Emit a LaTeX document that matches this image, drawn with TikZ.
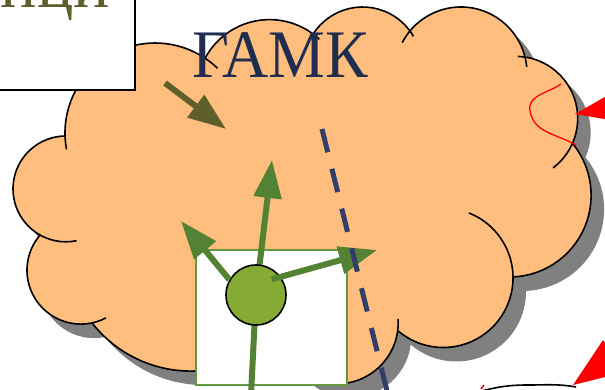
\documentclass[tikz,border=0pt]{standalone}
\usepackage{fontspec}
\setmainfont{Liberation Serif}
\usetikzlibrary{arrows.meta,calc}
\definecolor{cloudfill}{RGB}{255,190,125}
\definecolor{shadowgray}{RGB}{128,128,128}
\definecolor{olivec}{RGB}{95,95,45}
\definecolor{navyt}{RGB}{33,45,78}
\definecolor{navyd}{RGB}{50,62,105}
\definecolor{greenarrow}{RGB}{84,130,53}
\definecolor{greencirc}{RGB}{134,171,52}
\definecolor{greensq}{RGB}{98,153,64}
\def\cloudpath{([shift={(155,256)}]182:90) arc[start angle=182,end angle=56.2,radius=90]
 -- ([shift={(269.5,296.4)}]151.9:73) arc[start angle=151.9,end angle=53.4,radius=73]
 -- ([shift={(362.6,323.3)}]147.4:58.7) arc[start angle=147.4,end angle=36.2,radius=58.7]
 -- ([shift={(460.9,315.9)}]140.4:66.1) arc[start angle=140.4,end angle=14.1,radius=66.1]
 -- ([shift={(515.7,270.6)}]82.3:62) arc[start angle=82.3,end angle=-24,radius=62]
 -- ([shift={(509.4,193.7)}]38.9:81.7) arc[start angle=38.9,end angle=-87.5,radius=81.7]
 -- ([shift={(443.3,111.2)}]0.7:69.7) arc[start angle=0.7,end angle=-130,radius=69.7]
 -- ([shift={(337.2,66.2)}]-7.8:61) arc[start angle=-7.8,end angle=-166.5,radius=61]
 -- ([shift={(190.9,143.5)}]-46.2:125.6) arc[start angle=-46.2,end angle=-141.9,radius=125.6]
 -- ([shift={(80.9,118.8)}]281.9:53.9) arc[start angle=281.9,end angle=139.3,radius=53.9]
 -- ([shift={(65.9,200.1)}]240.7:52.9) arc[start angle=240.7,end angle=90,radius=52.9]
 -- cycle}
\begin{document}
\begin{tikzpicture}[x=1pt,y=1pt,
  cloudline/.style={draw=black, line width=1.6pt},
  bigtext/.style={inner sep=0pt, font=\fontsize{68}{80}\selectfont},
  olivearrow/.style={draw=olivec, line width=6pt, -{Triangle[length=38pt,width=27pt]}, olivec},
  garrow/.style={draw=greenarrow, line width=6pt, -{Triangle[length=38pt,width=27pt]}, greenarrow},
  gline/.style={draw=greenarrow, line width=6pt},
  gcircle/.style={circle, fill=greencirc, draw=black, line width=1.6pt, minimum size=60pt, inner sep=0pt},
  sqbox/.style={rectangle, fill=white, draw=greensq, line width=1.6pt, minimum width=151pt, minimum height=135pt, inner sep=0pt},
  navydash/.style={draw=navyd, line width=5pt, dash pattern=on 24pt off 17pt},
  redline/.style={draw=red, line width=1.3pt}]
\useasboundingbox (0,0) rectangle (605,389);
\clip (0,0) rectangle (605,389);
% cloud shadow and fill
\fill[shadowgray, shift={(13,-14)}] \cloudpath;
\fill[cloudfill] \cloudpath;
% cloud outline arcs
\draw[cloudline] ([shift={(155,256)}]190.5:90) arc[start angle=190.5,end angle=46,radius=90];
\draw[cloudline] ([shift={(269.5,296.4)}]151.9:73) arc[start angle=151.9,end angle=47,radius=73];
\draw[cloudline] ([shift={(362.6,323.3)}]147.4:58.7) arc[start angle=147.4,end angle=30,radius=58.7];
\draw[cloudline] ([shift={(460.9,315.9)}]152.5:66.1) arc[start angle=152.5,end angle=5.4,radius=66.1];
\draw[cloudline] ([shift={(515.7,270.6)}]88:62) arc[start angle=88,end angle=-53,radius=62];
\draw[cloudline] ([shift={(509.4,193.7)}]40:81.7) arc[start angle=40,end angle=-88,radius=81.7];
\draw[cloudline] ([shift={(443.3,111.2)}]68.4:69.7) arc[start angle=68.4,end angle=-130,radius=69.7];
\draw[cloudline] ([shift={(337.2,66.2)}]3.6:61) arc[start angle=3.6,end angle=-166.5,radius=61];
\draw[cloudline] ([shift={(190.9,143.5)}]-46.2:125.6) arc[start angle=-46.2,end angle=-141.9,radius=125.6];
\draw[cloudline] ([shift={(80.9,118.8)}]297.7:53.9) arc[start angle=297.7,end angle=139.3,radius=53.9];
\draw[cloudline] ([shift={(65.9,200.1)}]281.6:52.9) arc[start angle=281.6,end angle=90,radius=52.9];
% title text
\node[bigtext, text=navyt, anchor=base west, xscale=0.94] (gamk) at (192,311) {ГАМК};
% white label box (partly outside)
\draw[fill=white, draw=black, line width=1.6pt] (-5,299) rectangle (135,395);
\node[bigtext, text=olivec, anchor=base east] (nci) at (110,381) {нци};
% olive arrow
\coordinate (oTail) at (165,306);
\coordinate (oTip) at (226,260);
\draw[olivearrow] (oTail) -- (oTip);
% square with green circle
\node[sqbox] (sq) at (271.5,71.5) {};
\coordinate (gcc) at (256,94);
\coordinate (upTip) at (272,229);
\coordinate (downEnd) at (251,-6);
\coordinate (leftTip) at (181,168);
\coordinate (rightTip) at (377,139);
\draw[gline] (gcc) -- (downEnd);
\draw[garrow] (gcc) -- (upTip);
\node[gcircle] (gc) at (gcc) {};
\draw[garrow] (gc.150) -- (leftTip);
\draw[garrow] ($(gc.center)!0.72!(gc.45)$) -- (rightTip);
% dashed navy line
\coordinate (dTop) at (322,260);
\coordinate (dBot) at (388,-6);
\draw[navydash] (dTop) -- (dBot);
% red elements on the right
\draw[redline] (561,305) to[out=215,in=100] (530,278) to[out=280,in=150] (576,244);
\fill[red] (575,275) -- (610,295) -- (610,269) -- cycle;
\fill[red] (573,4) -- (603,49) -- (625,17) -- cycle;
% bottom arc
\draw[black, line width=1.6pt] (478,-3) to[out=15,in=180] (528,4) to[out=0,in=170] (576,2);
\draw[red, line width=1.5pt] (481,0) -- (484,4);
\end{tikzpicture}
\end{document}
